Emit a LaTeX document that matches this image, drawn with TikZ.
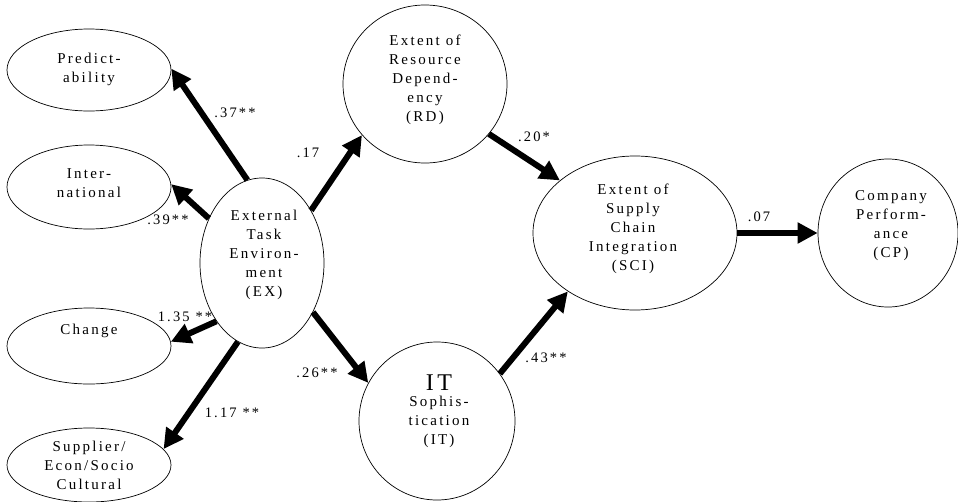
\documentclass[tikz,border=0pt]{standalone}
\usepackage{fontspec}
\setmainfont{Liberation Serif}[LetterSpace=15]
\usetikzlibrary{shapes.geometric,arrows.meta}
\begin{document}
\begin{tikzpicture}[x=1pt,y=-1pt,
  blob/.style={draw=black, line width=0.7pt, ellipse, inner sep=0pt},
  txt/.style={align=center, font=\fontsize{15}{19}\selectfont, inner sep=0pt},
  coef/.style={font=\fontsize{14.5}{17}\selectfont, inner sep=0pt},
  path/.style={line width=6pt, -{Triangle[length=20pt,width=20pt]}}
]
\useasboundingbox (0,0) rectangle (958,501);

% latent constructs
\node[blob, minimum width=164pt, minimum height=82pt] (pred) at (89,70) {};
\node[txt] (predt) at (89,69) {Predict-\\ability};
\node[blob, minimum width=164pt, minimum height=84pt] (intl) at (89,187) {};
\node[txt] (intlt) at (89,183) {Inter-\\national};
\node[blob, minimum width=164pt, minimum height=76pt] (chg) at (89,346) {};
\node[txt] (chgt) at (89,331) {Change};
\node[blob, minimum width=164pt, minimum height=74pt] (supp) at (89,465) {};
\node[txt] (suppt) at (89,465) {Supplier/\\Econ/Socio\\Cultural};

\node[blob, minimum width=124pt, minimum height=170pt] (ex) at (262,263) {};
\node[txt] (ext) at (264,255) {External\\Task\\Environ-\\ment\\(EX)};

\node[blob, minimum width=164pt, minimum height=158pt] (rd) at (425,84) {};
\node[txt] (rdt) at (425,80) {Extent of\\Resource\\Depend-\\ency\\(RD)};

\node[blob, minimum width=156pt, minimum height=158pt] (it) at (437,421) {};
\node[txt] (itt) at (439,411) {{\fontsize{24}{24}\selectfont IT}\\[-3pt]Sophis-\\tication\\(IT)};

\node[blob, minimum width=204pt, minimum height=154pt] (sci) at (635,233) {};
\node[txt] (scit) at (633,229) {Extent of\\Supply\\Chain\\Integration\\(SCI)};

\node[blob, minimum width=140pt, minimum height=148pt] (cp) at (888,233) {};
\node[txt] (cpt) at (891,226) {Company\\Perform-\\ance\\(CP)};

% structural paths
\draw[path] (ex.100) -- (pred.1);
\draw[path] (ex.140) -- (intl.2);
\draw[path] (ex.232) -- (chg.3);
\draw[path] (ex.253) -- (supp.12);
\draw[path] (ex.47) -- (rd.219);
\draw[path] (rd.322) -- (sci.145);
\draw[path] (ex.316) -- (it.151);
\draw[path] (it.37) -- (sci.221);
\draw[path] (sci.east) -- (cp.west);

% path coefficients
\node[coef] (c1) at (235,113) {.37**};
\node[coef] (c2) at (308,153) {.17};
\node[coef] (c3) at (168,220) {.39**};
\node[coef] (c4) at (185,317) {1.35 **};
\node[coef] (c5) at (232,413) {1.17 **};
\node[coef] (c6) at (317,373) {.26**};
\node[coef] (c7) at (534,137) {.20*};
\node[coef] (c8) at (546,358) {.43**};
\node[coef] (c9) at (759,217) {.07};
\end{tikzpicture}
\end{document}
